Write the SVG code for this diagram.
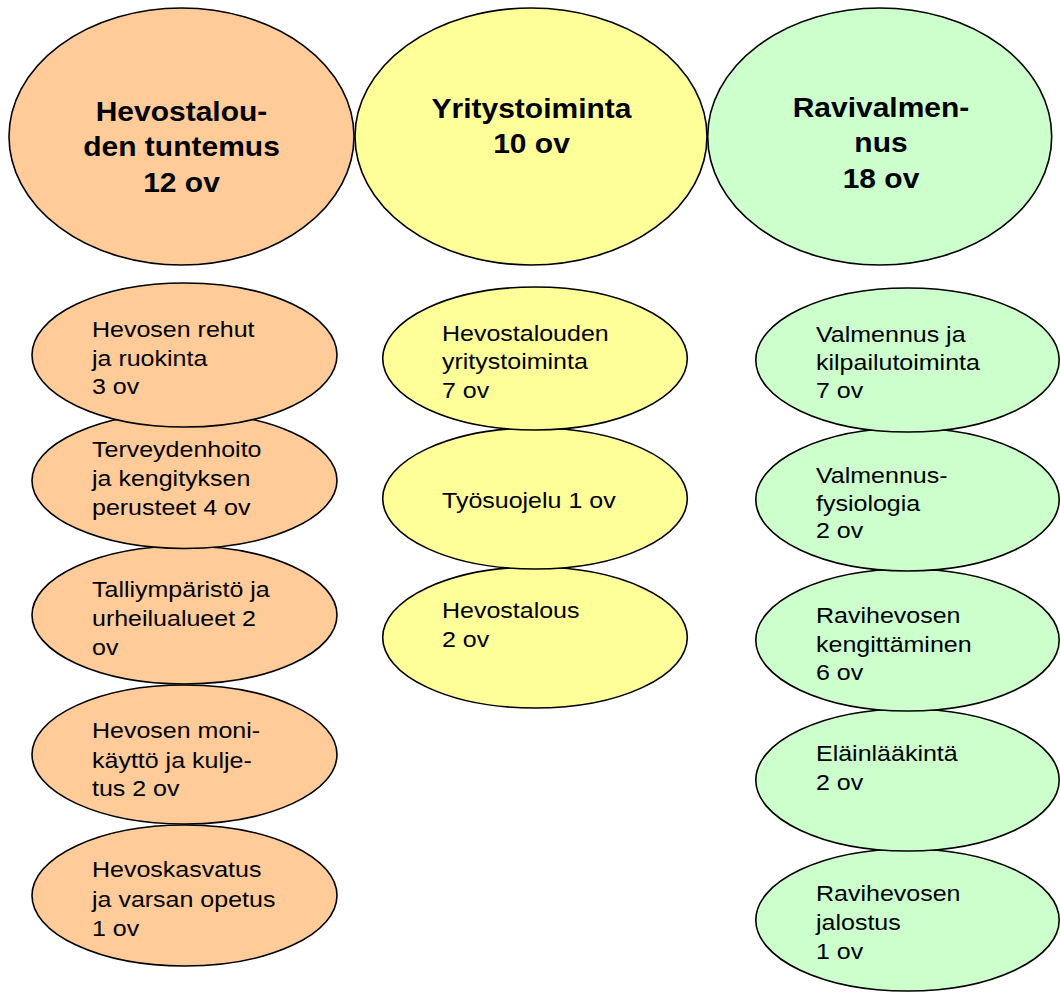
<svg xmlns="http://www.w3.org/2000/svg" width="1060" height="992" viewBox="0 0 1060 992">
<style>
.o{fill:#FFCC99;stroke:#000;stroke-width:1.6}
.y{fill:#FFFF99;stroke:#000;stroke-width:1.6}
.g{fill:#CCFFCC;stroke:#000;stroke-width:1.6}
.h{font-family:"Liberation Sans",Arial,sans-serif;font-weight:bold;font-size:30px;fill:#000;text-anchor:middle}
.t{font-family:"Liberation Sans",Arial,sans-serif;font-size:25px;fill:#000}
</style>
<rect width="1060" height="992" fill="#fff"/>
<g id="connectors"></g>
<g id="top-hevostalous">
<ellipse class="o" cx="181.5" cy="136.5" rx="172.5" ry="128.5"/>
<text class="h" transform="translate(181.5,120.7) scale(1,0.94)"><tspan x="0" y="0">Hevostalou-</tspan><tspan x="0" dy="37.5">den tuntemus</tspan><tspan x="0" dy="38">12 ov</tspan></text>
</g>
<g id="top-yritystoiminta">
<ellipse class="y" cx="531" cy="136.5" rx="176" ry="128.5"/>
<text class="h" transform="translate(531.5,118.3) scale(1,0.94)"><tspan x="0" y="0">Yritystoiminta</tspan><tspan x="0" dy="37.3">10 ov</tspan></text>
</g>
<g id="top-ravivalmennus">
<ellipse class="g" cx="879.7" cy="136.5" rx="172" ry="128.5"/>
<text class="h" transform="translate(881,117.3) scale(1,0.94)"><tspan x="0" y="0">Ravivalmen-</tspan><tspan x="0" dy="37.3">nus</tspan><tspan x="0" dy="38">18 ov</tspan></text>
</g>

<g id="o5">
<ellipse class="o" cx="184.5" cy="895.5" rx="152.5" ry="70.5"/>
<text class="t" transform="translate(92,877.3) scale(1,0.87)"><tspan x="0" y="0">Hevoskasvatus</tspan><tspan x="0" dy="33.7">ja varsan opetus</tspan><tspan x="0" dy="33.5">1 ov</tspan></text>
</g>
<g id="o4">
<ellipse class="o" cx="184.5" cy="754.5" rx="152.5" ry="69.5"/>
<text class="t" transform="translate(92,738.3) scale(1,0.87)"><tspan x="0" y="0">Hevosen moni-</tspan><tspan x="0" dy="33.7">käyttö ja kulje-</tspan><tspan x="0" dy="33.2">tus 2 ov</tspan></text>
</g>
<g id="o3">
<ellipse class="o" cx="184.5" cy="615" rx="152.5" ry="69"/>
<text class="t" transform="translate(92,596.7) scale(1,0.87)"><tspan x="0" y="0">Talliympäristö ja</tspan><tspan x="0" dy="33.7">urheilualueet 2</tspan><tspan x="0" dy="33.5">ov</tspan></text>
</g>
<g id="o2">
<ellipse class="o" cx="184.5" cy="480.5" rx="152.5" ry="68"/>
<text class="t" transform="translate(92,456.7) scale(1,0.87)"><tspan x="0" y="0">Terveydenhoito</tspan><tspan x="0" dy="33.7">ja kengityksen</tspan><tspan x="0" dy="33.5">perusteet 4 ov</tspan></text>
</g>
<g id="o1">
<ellipse class="o" cx="184.5" cy="355" rx="152.5" ry="72"/>
<text class="t" transform="translate(92,337) scale(1,0.87)"><tspan x="0" y="0">Hevosen rehut</tspan><tspan x="0" dy="33.5">ja ruokinta</tspan><tspan x="0" dy="32.5">3 ov</tspan></text>
</g>

<g id="y3">
<ellipse class="y" cx="535" cy="637.5" rx="152.3" ry="70.5"/>
<text class="t" transform="translate(442,618.3) scale(1,0.87)"><tspan x="0" y="0">Hevostalous</tspan><tspan x="0" dy="33.3">2 ov</tspan></text>
</g>
<g id="y2">
<ellipse class="y" cx="535" cy="498.5" rx="152.3" ry="70.5"/>
<text class="t" transform="translate(442,508.3) scale(1,0.87)"><tspan x="0" y="0">Työsuojelu 1 ov</tspan></text>
</g>
<g id="y1">
<ellipse class="y" cx="535" cy="358.5" rx="152.3" ry="71.5"/>
<text class="t" transform="translate(442,340.7) scale(1,0.87)"><tspan x="0" y="0">Hevostalouden</tspan><tspan x="0" dy="32.9">yritystoiminta</tspan><tspan x="0" dy="33.3">7 ov</tspan></text>
</g>

<g id="g5">
<ellipse class="g" cx="907.5" cy="920" rx="151.7" ry="71"/>
<text class="t" transform="translate(816,901) scale(1,0.87)"><tspan x="0" y="0">Ravihevosen</tspan><tspan x="0" dy="33.3">jalostus</tspan><tspan x="0" dy="33.7">1 ov</tspan></text>
</g>
<g id="g4">
<ellipse class="g" cx="907.5" cy="780" rx="151.7" ry="71"/>
<text class="t" transform="translate(816,760.7) scale(1,0.87)"><tspan x="0" y="0">Eläinlääkintä</tspan><tspan x="0" dy="33.7">2 ov</tspan></text>
</g>
<g id="g3">
<ellipse class="g" cx="907.5" cy="640" rx="151.7" ry="71"/>
<text class="t" transform="translate(816,622.7) scale(1,0.87)"><tspan x="0" y="0">Ravihevosen</tspan><tspan x="0" dy="33.7">kengittäminen</tspan><tspan x="0" dy="32.2">6 ov</tspan></text>
</g>
<g id="g2">
<ellipse class="g" cx="907.5" cy="499.5" rx="151.7" ry="71.5"/>
<text class="t" transform="translate(816,482.7) scale(1,0.87)"><tspan x="0" y="0">Valmennus-</tspan><tspan x="0" dy="32.2">fysiologia</tspan><tspan x="0" dy="31.7">2 ov</tspan></text>
</g>
<g id="g1">
<ellipse class="g" cx="907.5" cy="360" rx="151.7" ry="72"/>
<text class="t" transform="translate(816,341.7) scale(1,0.87)"><tspan x="0" y="0">Valmennus ja</tspan><tspan x="0" dy="32.5">kilpailutoiminta</tspan><tspan x="0" dy="32.5">7 ov</tspan></text>
</g>
</svg>
